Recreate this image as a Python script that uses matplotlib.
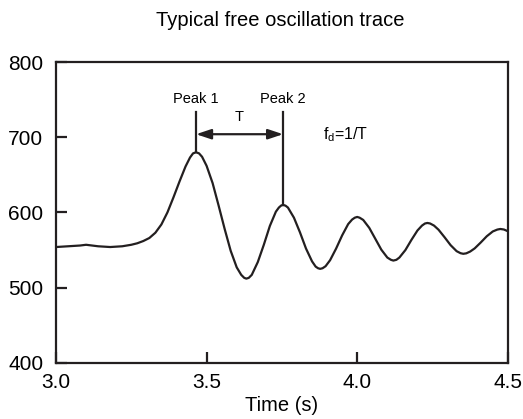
import numpy as np
import matplotlib
matplotlib.use("Agg")
import matplotlib.pyplot as plt

# trace
time_s = [3.00, 3.04, 3.08, 3.10, 3.14, 3.18, 3.22, 3.25, 3.27, 3.29, 3.31, 3.33,
          3.35, 3.37, 3.39, 3.41, 3.43, 3.445, 3.455, 3.465, 3.475, 3.485, 3.50,
          3.52, 3.54, 3.56, 3.58, 3.60, 3.615, 3.625, 3.632, 3.64, 3.65, 3.67,
          3.69, 3.71, 3.73, 3.74, 3.748, 3.754, 3.762, 3.77, 3.79, 3.81, 3.83,
          3.85, 3.862, 3.87, 3.877, 3.885, 3.895, 3.91, 3.93, 3.95, 3.97, 3.983,
          3.992, 4.00, 4.008, 4.02, 4.04, 4.06, 4.08, 4.10, 4.112, 4.12, 4.13,
          4.14, 4.16, 4.18, 4.20, 4.215, 4.225, 4.233, 4.242, 4.255, 4.27, 4.29,
          4.31, 4.33, 4.343, 4.352, 4.362, 4.375, 4.39, 4.41, 4.43, 4.45, 4.465,
          4.475, 4.487, 4.50]
signal = [554, 555, 556, 557, 555, 554, 555, 557, 559, 562, 566, 573,
          584, 600, 620, 641, 661, 673, 678.5, 680, 678.5, 674, 662,
          639, 609, 578, 549, 527, 517, 513, 512, 513, 517, 534,
          557, 582, 601, 606.5, 609.3, 610, 609, 606.5, 593, 573.5, 552,
          535, 528, 525.8, 525, 525.8, 528.5, 536.5, 552, 569.5, 584.5, 590.5,
          593, 594, 593, 590, 579.5, 565, 550.5, 540, 537, 536, 537,
          540, 550, 563.5, 576, 582.5, 585.3, 586, 585.3, 582.5, 577, 567,
          556.5, 548.5, 545.8, 545, 545.6, 548, 552.2, 560, 568.3, 574.7, 577.2,
          578, 577.3, 575]

x_ticks = [3.0, 3.5, 4.0, 4.5]
y_ticks = [400, 500, 600, 700, 800]

plt.rcParams['font.family'] = ['Liberation Sans', 'DejaVu Sans']
plt.rcParams['mathtext.default'] = 'regular'

t = np.array(time_s)
v = np.array(signal)
# first two peaks of the trace
is_peak = (v[1:-1] > v[:-2]) & (v[1:-1] >= v[2:]) & (v[1:-1] > 600)
peak_idx = np.where(is_peak)[0] + 1
p1, p2 = peak_idx[0], peak_idx[1]

fig = plt.figure(figsize=(5.23, 4.19), dpi=100)
ax = fig.add_axes([0.107, 0.134, 0.864, 0.718])
ax.plot(t, v, color='#231f20', lw=1.6, solid_joinstyle='round')

ax.set_xlim(3.0, 4.5)
ax.set_ylim(400, 800)
ax.set_xticks(x_ticks)
ax.set_xticklabels(['%.1f' % x for x in x_ticks])
ax.set_yticks(y_ticks)
ax.tick_params(direction='in', length=8, width=1.6, labelsize=15, color='#231f20')
ax.tick_params(axis='x', pad=7)
ax.tick_params(axis='y', pad=9)
for s in ax.spines.values():
    s.set_linewidth(1.6)
    s.set_color('#231f20')
ax.set_xlabel('Time (s)', fontsize=14.5, labelpad=3)

line_top = 733
arrow_y = 704
for i, lab in [(p1, 'Peak 1'), (p2, 'Peak 2')]:
    ax.plot([t[i], t[i]], [v[i], line_top], color='#231f20', lw=1.6)
    ax.text(t[i], line_top + 9, lab, ha='center', va='bottom', fontsize=10.5)
ax.annotate('', xy=(t[p1], arrow_y), xytext=(t[p2], arrow_y),
            arrowprops=dict(arrowstyle='<|-|>,head_length=0.9,head_width=0.3',
                            color='#231f20', lw=1.6, shrinkA=0, shrinkB=0))
ax.text((t[p1] + t[p2]) / 2, arrow_y + 14, 'T', ha='center', va='bottom', fontsize=10.5)
ax.text(3.885, arrow_y, r'f$_d$=1/T', ha='left', va='center', fontsize=11.5)

fig.text(0.535, 0.952, 'Typical free oscillation trace', ha='center', va='center', fontsize=14.5)

fig.savefig('out.png', dpi=100)
